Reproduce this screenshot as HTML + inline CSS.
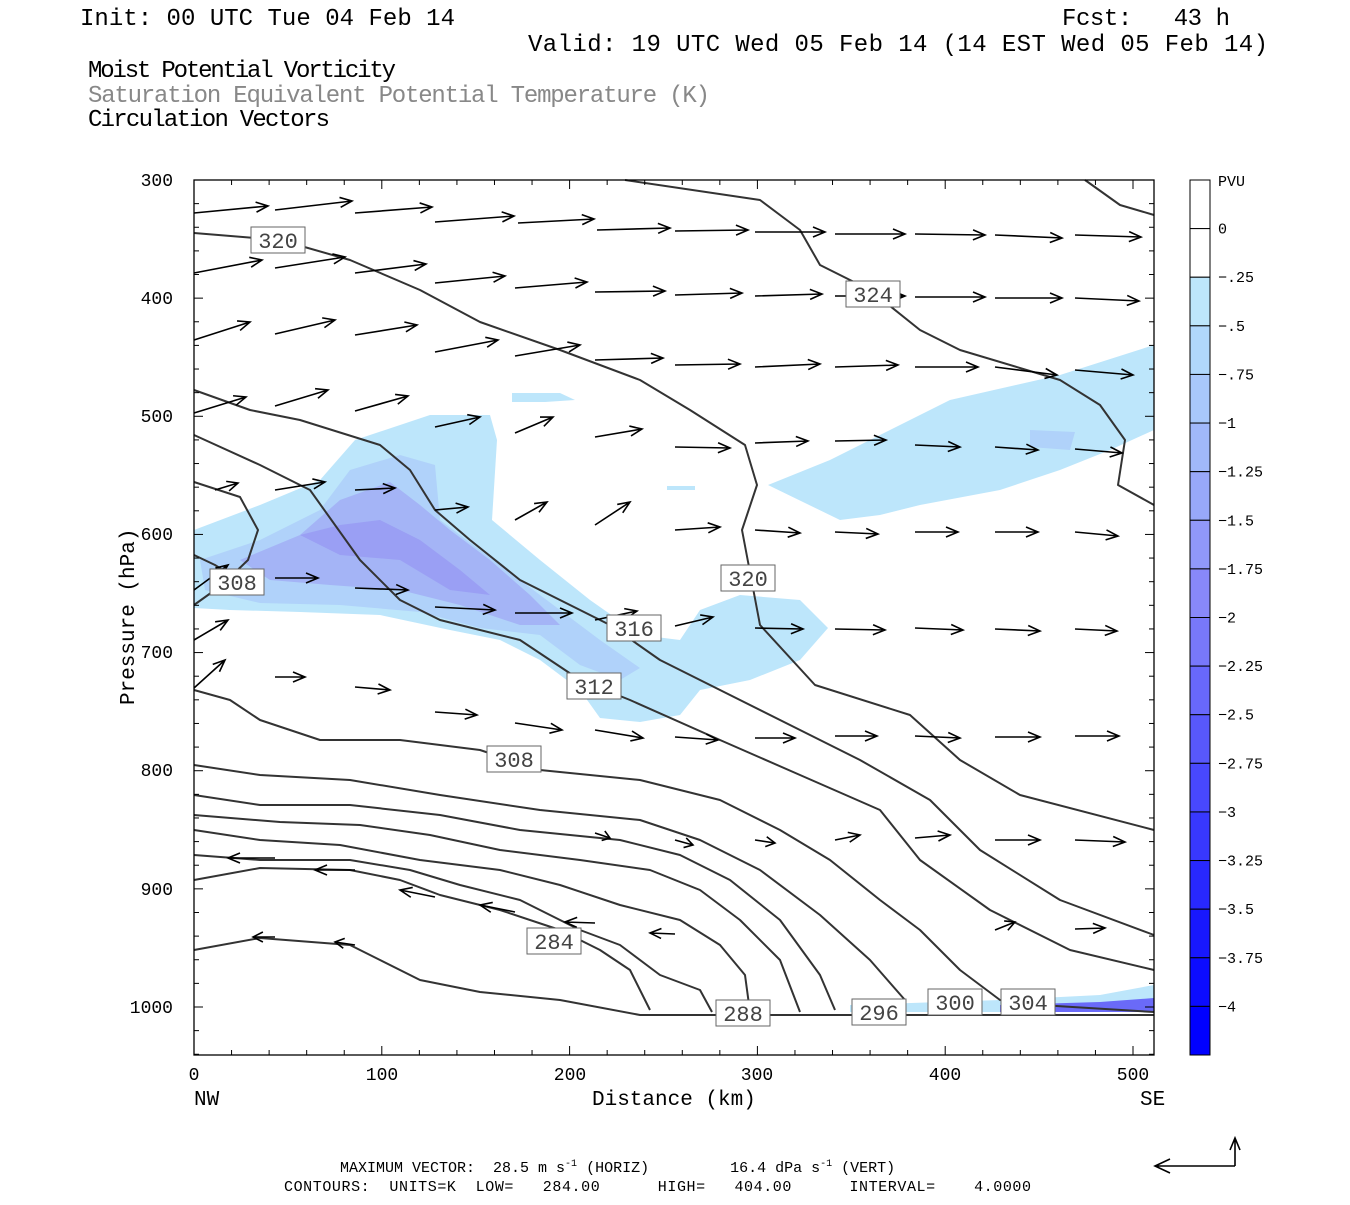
<!DOCTYPE html>
<html><head><meta charset="utf-8"><style>
body{margin:0;background:#fff;}
svg text{font-family:"Liberation Mono","DejaVu Sans Mono",monospace;white-space:pre;}
</style></head><body>
<svg id="s" width="1350" height="1200" viewBox="0 0 1350 1200" xmlns="http://www.w3.org/2000/svg" xml:space="preserve">
<rect width="1350" height="1200" fill="#fff"/>
<g font-size="24" fill="#000">
<text x="80" y="25" textLength="375">Init: 00 UTC Tue 04 Feb 14</text>
<text x="1062" y="25" textLength="168">Fcst:   43 h</text>
<text x="528" y="51" textLength="740">Valid: 19 UTC Wed 05 Feb 14 (14 EST Wed 05 Feb 14)</text>
<text x="88" y="77" textLength="308">Moist Potential Vorticity</text>
<text x="88" y="102" fill="#888" textLength="622">Saturation Equivalent Potential Temperature (K)</text>
<text x="88" y="126" textLength="242">Circulation Vectors</text>
</g>
<g fill="#bde6fb">
<path d="M194,530 L260,505 L320,480 L355,440 L430,415 L490,415 L497,440 L492,520 L540,560 L590,600 L640,635 L680,640 L700,610 L740,595 L800,600 L828,628 L800,660 L750,680 L700,690 L680,715 L640,722 L600,718 L580,690 L540,660 L500,640 L450,630 L380,615 L300,612 L230,610 L194,608 Z"/>
<path d="M768,485 L830,460 L950,400 L1060,375 L1154,345 L1154,430 L1110,450 L1060,470 L1000,490 L920,505 L880,515 L840,520 Z"/>
<path d="M512,393 L560,393 L575,400 L545,402 L512,402 Z"/>
<path d="M667,486 L695,486 L695,490 L667,490 Z"/>
<path d="M850,1005 L1000,1000 L1100,995 L1154,985 L1154,1012 L850,1012 Z"/>
</g>
<g fill="#b0d2fa">
<path d="M200,560 L260,540 L320,510 L350,470 L400,455 L435,465 L440,520 L480,550 L520,580 L560,610 L600,640 L640,668 L620,680 L580,665 L540,635 L480,628 L420,612 L340,605 L260,603 L205,590 Z"/>
<path d="M1030,430 L1075,432 L1070,450 L1030,447 Z"/>
</g>
<g fill="#a4b4f6">
<path d="M240,560 L300,535 L340,500 L390,482 L420,505 L450,530 L490,560 L530,595 L560,625 L520,625 L460,605 L400,590 L330,585 L270,580 Z"/>
</g>
<g fill="#9a9ff4">
<path d="M300,535 L340,525 L380,520 L420,540 L460,570 L490,595 L450,590 L400,560 L340,555 Z"/>
</g>
<g fill="#6a6af8"><path d="M1000,1005 L1100,1002 L1154,998 L1154,1012 L1000,1012 Z"/></g>
<g id="cont" fill="none" stroke="#333" stroke-width="2" stroke-linejoin="round"></g>
<g id="arr" fill="none" stroke="#000" stroke-width="1.6"></g>
<g id="labs"></g>
<rect x="194" y="180" width="960" height="875" fill="none" stroke="#000" stroke-width="1.3"/>
<g id="ticks" stroke="#000" stroke-width="1"></g>
<g font-size="18" fill="#000" text-anchor="end">
<text x="173" y="186">300</text><text x="173" y="304">400</text><text x="173" y="422">500</text>
<text x="173" y="540">600</text><text x="173" y="658">700</text><text x="173" y="776">800</text>
<text x="173" y="895">900</text><text x="173" y="1013">1000</text>
</g>
<g font-size="18" fill="#000" text-anchor="middle">
<text x="194" y="1080">0</text><text x="382" y="1080">100</text><text x="570" y="1080">200</text>
<text x="757" y="1080">300</text><text x="945" y="1080">400</text><text x="1133" y="1080">500</text>
</g>
<g font-size="21" fill="#000">
<text x="194" y="1105">NW</text><text x="1140" y="1105">SE</text>
<text x="592" y="1105">Distance (km)</text>
<text transform="translate(134,705) rotate(-90)">Pressure (hPa)</text>
</g>
<g id="cbar"></g>
<g font-size="15" fill="#000">
<text x="340" y="1172">MAXIMUM VECTOR:  28.5 m s<tspan dy="-6" font-size="10">-1</tspan><tspan dy="6"> (HORIZ)         16.4 dPa s</tspan><tspan dy="-6" font-size="10">-1</tspan><tspan dy="6"> (VERT)</tspan></text>
<text x="284" y="1191" textLength="747">CONTOURS:  UNITS=K  LOW=   284.00      HIGH=   404.00      INTERVAL=    4.0000</text>
</g>
<g fill="none" stroke="#000" stroke-width="1.6">
<path d="M1235,1166 L1155,1166 M1170,1159 L1155,1166 L1170,1173 M1235,1166 L1235,1138 M1230,1150 L1235,1138 L1240,1150"/>
</g>
</svg>
<script>
var NS="http://www.w3.org/2000/svg";
function el(p,t,a){var e=document.createElementNS(NS,t);for(var k in a)e.setAttribute(k,a[k]);p.appendChild(e);return e;}
var C=[
[625,180,760,200,800,230,820,265,870,290,920,330,960,350,1060,380,1100,405,1125,440,1118,485,1154,505],
[1085,180,1120,205,1154,215],
[194,233,280,240,350,260,420,290,480,322,560,350,640,380,690,410,745,445,757,485,742,530,760,625,815,685,910,715,960,760,1020,795,1154,830],
[194,390,250,410,300,420,380,445,410,470,435,510,470,540,520,580,560,600,610,625,660,660,720,690,790,725,860,760,930,800,980,850,1060,900,1154,935],
[194,435,260,465,310,490,360,560,400,600,440,620,520,640,580,680,630,700,720,740,800,775,880,810,920,860,990,910,1070,950,1154,970],
[194,482,240,497,258,530,248,560,222,585,194,605],
[194,555,215,565,238,580],
[194,690,230,700,260,720,320,740,400,740,480,750,540,770,640,780,720,800,780,830,830,860,880,900,920,930,960,970,1000,1000,1040,1005,1154,1012],
[194,765,260,775,350,780,440,795,540,810,640,820,700,840,760,870,820,915,870,960,905,1000],
[194,795,260,805,350,805,440,815,520,830,620,840,680,855,730,880,780,920,820,975,835,1010],
[194,815,280,822,360,825,430,835,500,850,580,860,650,870,700,890,740,920,780,960,800,1012],
[194,830,260,840,340,845,420,860,500,870,560,885,620,905,680,920,720,945,745,975,750,1012],
[194,855,260,860,350,860,410,870,460,885,520,900,580,930,620,945,660,975,700,990,712,1012],
[194,880,260,868,350,870,400,880,440,895,500,910,560,930,600,950,630,970,650,1010],
[194,950,260,938,350,945,380,960,420,980,480,992,560,1000,640,1015,1154,1015]];
var cg=document.getElementById('cont');
C.forEach(function(c){var d="M"+c[0]+","+c[1];for(var i=2;i<c.length;i+=2)d+=" L"+c[i]+","+c[i+1];el(cg,'path',{d:d});});
var A=[
[194,213,268,206],[275,210,352,201],[355,213,432,207],[435,222,514,216],[518,223,594,219],[597,230,670,228],[675,231,748,230],[755,232,825,232],[835,234,905,234],[915,234,985,235],[995,235,1062,238],[1075,235,1141,237],
[194,273,262,260],[275,268,345,257],[355,273,426,264],[435,283,505,276],[515,288,587,282],[595,292,665,291],[675,295,742,293],[755,296,822,294],[835,296,905,296],[915,297,985,297],[995,298,1062,298],[1075,298,1139,301],
[194,340,250,322],[275,334,335,320],[355,335,417,325],[435,352,498,340],[515,356,580,345],[595,360,663,358],[675,365,740,364],[755,367,820,364],[835,367,898,365],[915,367,978,367],[995,367,1057,375],[1075,370,1133,375],
[194,413,246,397],[275,406,328,390],[355,411,408,396],[435,427,480,417],[515,433,553,417],[595,437,642,429],[675,447,730,448],[755,443,808,441],[835,441,886,440],[915,445,960,447],[995,447,1038,450],[1075,449,1122,453],
[215,490,238,483],[275,490,325,482],[355,490,395,488],[435,510,468,507],[515,520,547,502],[595,525,630,502],[675,530,720,527],[755,530,800,533],[835,532,878,534],[915,532,958,532],[995,532,1038,532],[1075,532,1118,536],
[194,590,228,565],[275,578,318,578],[355,588,408,590],[435,607,495,610],[515,613,572,613],[595,620,637,611],[675,626,713,617],[755,628,803,629],[835,629,885,630],[915,628,963,630],[995,629,1040,631],[1075,629,1117,631],[194,688,225,660],[194,640,228,620],
[275,677,305,677],[355,687,390,690],[435,712,477,715],[515,723,562,730],[595,730,643,738],[675,737,718,740],[755,738,795,738],[835,736,877,736],[915,736,960,738],[995,737,1040,737],[1075,736,1119,736],
[595,833,610,838],[675,840,693,845],[755,840,775,843],[835,840,860,835],[915,838,950,835],[995,840,1040,840],[1075,840,1125,842],
[275,858,228,858],[355,870,315,870],[435,897,400,890],[515,912,480,905],[595,923,565,922],[675,934,650,933],[995,930,1015,922],[1075,929,1105,928],[275,937,253,937],[355,945,335,942]];
var ag=document.getElementById('arr');
A.forEach(function(a){var dx=a[2]-a[0],dy=a[3]-a[1],L=Math.sqrt(dx*dx+dy*dy),ux=dx/L,uy=dy/L,h=Math.min(12,L*0.45),w=5;
var bx=a[2]-ux*h,by=a[3]-uy*h;
el(ag,'path',{d:"M"+a[0]+","+a[1]+" L"+a[2]+","+a[3]+" M"+(bx-uy*w)+","+(by+ux*w)+" L"+a[2]+","+a[3]+" L"+(bx+uy*w)+","+(by-ux*w)});});
var Lb=[[278,240,"320"],[873,294,"324"],[237,582,"308"],[748,578,"320"],[634,628,"316"],[594,686,"312"],[514,759,"308"],[554,941,"284"],[743,1013,"288"],[879,1012,"296"],[955,1002,"300"],[1028,1002,"304"]];
var lg=document.getElementById('labs');
Lb.forEach(function(l){el(lg,'rect',{x:l[0]-27,y:l[1]-13,width:54,height:26,fill:"#fff",stroke:"#666","stroke-width":1});
var t=el(lg,'text',{x:l[0],y:l[1]+8,"text-anchor":"middle","font-size":"22",fill:"#444"});t.textContent=l[2];});
var tg=document.getElementById('ticks');
for(var p=300;p<=1040;p+=20){var y=180+(p-300)*827/700;var len=(p%100==0)?9:5;el(tg,'line',{x1:194,y1:y,x2:194+len,y2:y});el(tg,'line',{x1:1154,y1:y,x2:1154-len,y2:y});}
for(var k=0;k<=510;k+=20){var x=194+k*1.878;var len=(k%100==0)?9:5;el(tg,'line',{x1:x,y1:1055,x2:x,y2:1055-len});el(tg,'line',{x1:x,y1:180,x2:x,y2:180+len});}
var cols=["#ffffff","#ffffff","#bde6fb","#b0d8fc","#a8c8fb","#a0b8fa","#98a8fa","#9098fa","#8888fa","#7878fa","#6868fc","#5858fc","#4848fd","#3838fd","#2828fe","#1818fe","#0c0cff","#0000ff"];
var labs=["0","-.25","-.5","-.75","-1","-1.25","-1.5","-1.75","-2","-2.25","-2.5","-2.75","-3","-3.25","-3.5","-3.75","-4"];
var cb=document.getElementById('cbar'),hh=875/18;
cols.forEach(function(c,i){el(cb,'rect',{x:1190,y:180+i*hh,width:20,height:hh,fill:c,stroke:"#000","stroke-width":1});});
var t=el(cb,'text',{x:1218,y:186,"font-size":"15"});t.textContent="PVU";
labs.forEach(function(s,i){var t=el(cb,'text',{x:1218,y:180+(i+1)*hh+5,"font-size":"15"});t.textContent=s.replace("-","\u2212");});
</script>
</body></html>
